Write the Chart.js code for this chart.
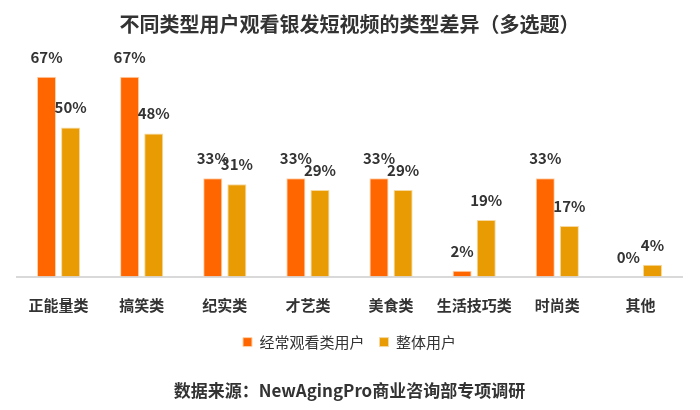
<!DOCTYPE html>
<html>
<head>
<meta charset="utf-8">
<script src="https://cdn.jsdelivr.net/npm/chart.js@4"></script>
<style>
html,body{margin:0;padding:0;background:#fff;}
#wrap{width:700px;height:410px;position:relative;}
</style>
</head>
<body>
<div id="wrap"><canvas id="c" width="700" height="410"></canvas></div>
<script>
const categories = ['正能量类','搞笑类','纪实类','才艺类','美食类','生活技巧类','时尚类','其他'];
const frequentUsers = [67, 67, 33, 33, 33, 2, 33, 0];
const allUsers = [50, 48, 31, 29, 29, 19, 17, 4];
const seriesNames = ['经常观看类用户','整体用户'];
const titleText = '不同类型用户观看银发短视频的类型差异（多选题）';
const sourceText = '数据来源：NewAgingPro商业咨询部专项调研';

const FONT = '"Noto Sans CJK SC", "Noto Sans", sans-serif';

const labelPlugin = {
  id: 'barLabels',
  afterDatasetsDraw(chart) {
    const ctx = chart.ctx;
    ctx.save();
    ctx.font = 'bold 15px ' + FONT;
    ctx.fillStyle = '#333333';
    ctx.textAlign = 'center';
    ctx.textBaseline = 'alphabetic';
    chart.data.datasets.forEach((ds, i) => {
      const meta = chart.getDatasetMeta(i);
      meta.data.forEach((bar, j) => {
        ctx.fillText(ds.data[j] + '%', bar.x, bar.y - 14);
      });
    });
    ctx.restore();
  }
};

new Chart(document.getElementById('c'), {
  type: 'bar',
  data: {
    labels: categories,
    datasets: [
      { label: seriesNames[0], data: frequentUsers, backgroundColor: '#FF6600', borderColor: '#FFD2A8', borderWidth: 1, borderSkipped: 'bottom' },
      { label: seriesNames[1], data: allUsers, backgroundColor: '#E89B02', borderColor: '#F6D9A0', borderWidth: 1, borderSkipped: 'bottom' }
    ]
  },
  options: {
    responsive: false,
    animation: false,
    devicePixelRatio: 1,
    layout: { padding: { left: 17, right: 18, top: 0, bottom: 9 } },
    datasets: { bar: { categoryPercentage: 0.58, barPercentage: 0.79 } },
    scales: {
      x: {
        grid: { display: false, drawTicks: false },
        border: { display: true, color: '#D9D9D9', width: 2 },
        ticks: { color: '#333333', font: { family: FONT, size: 15, weight: 'bold' }, padding: 20, maxRotation: 0 },
        afterFit(scale) {
          scale.height -= 15;
          scale._computeLabelArea = function () { return undefined; };
        }
      },
      y: { display: false, min: 0, max: 80 }
    },
    plugins: {
      title: {
        display: true, text: titleText, color: '#333333',
        font: { family: FONT, size: 20, weight: 'bold' },
        padding: { top: 12, bottom: 2 }
      },
      legend: {
        display: true, position: 'bottom',
        labels: { color: '#333333', font: { family: FONT, size: 15 }, boxWidth: 9, boxHeight: 9, padding: 15 }
      },
      subtitle: {
        display: true, position: 'bottom', text: sourceText, color: '#333333',
        font: { family: FONT, size: 17, weight: 'bold' },
        padding: { top: 21, bottom: 0 }
      },
      tooltip: { enabled: false }
    }
  },
  plugins: [labelPlugin]
});
</script>
</body>
</html>
